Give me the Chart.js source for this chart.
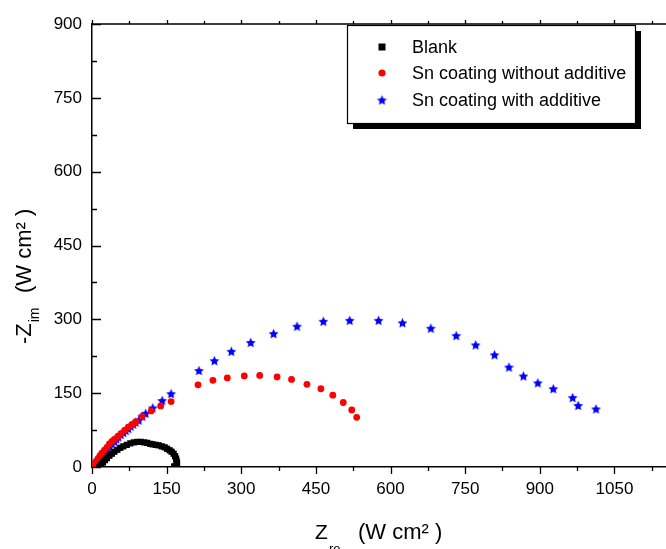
<!DOCTYPE html>
<html>
<head>
<meta charset="utf-8">
<script src="https://cdn.jsdelivr.net/npm/chart.js@4.4.1/dist/chart.umd.min.js"></script>
<style>
  html, body { margin: 0; padding: 0; background: #fff; }
  #wrap { width: 666px; height: 549px; overflow: hidden; position: relative; }
  #nyquist { display: block; }
</style>
</head>
<body>
<div id="wrap"><canvas id="nyquist" width="720" height="549"></canvas></div>
<script>
/* Nyquist plots: blank vs Sn coatings */

var seriesNames = ['Blank', 'Sn coating without additive', 'Sn coating with additive'];
var seriesColors = ['#000000', '#ff0000', '#0000ff'];

// blank
var blankZre = [15, 18, 22, 26, 30, 35, 40, 45, 51, 57, 63, 70, 77, 84, 91, 98, 105, 111, 117, 122,
                128, 134, 140, 146, 151, 156, 160, 164, 167, 169, 170, 171, 170, 168, 165];
var blankZim = [0, 4, 9, 14, 18, 23, 27, 31, 35, 39, 42, 45, 48, 50, 51, 51, 50, 49, 47, 46,
                45, 44, 42, 40, 37, 34, 31, 27, 22, 17, 12, 8, 4, 2, 1];

// Sn coating without additive
var noAddZre = [2, 5, 8, 12, 16, 20, 25, 30, 35, 40, 45, 52, 58, 66, 73, 80, 88, 101, 119, 138, 159,
                213, 243, 272, 306, 337, 372, 401, 432, 460, 484, 505, 522, 532];
var noAddZim = [0, 6, 11, 17, 23, 28, 34, 40, 47, 52, 56, 62, 68, 75, 81, 86, 92, 103, 114, 124, 133,
                167, 176, 181, 185, 186, 183, 178, 168, 159, 146, 131, 116, 101];

// Sn coating with additive
var addZre = [2, 5, 9, 13, 17, 21, 25, 30, 35, 40, 45, 49, 53, 58, 63, 68, 73, 78, 83, 88, 94, 101, 108,
              122, 141, 159, 215, 246, 280, 319, 365, 412, 465, 518, 576, 624, 681, 732, 771, 809,
              838, 867, 896, 927, 966, 977, 1013];
var addZim = [0, 4, 10, 15, 20, 26, 31, 36, 41, 47, 52, 57, 61, 66, 70, 74, 78, 83, 87, 91, 95, 103, 109,
              120, 135, 149, 196, 216, 235, 253, 271, 286, 296, 298, 298, 293, 282, 267, 248, 228,
              203, 185, 171, 159, 141, 125, 118];

var xMax = 1200, xStep = 150;
var yMax = 900, yStep = 150;

var FONT = "'Liberation Sans', Arial, sans-serif";

function pts(xs, ys) {
  return xs.map(function (x, i) { return {x: x, y: ys[i]}; });
}

// filled five point star used as a marker
function makeStar(r, color) {
  var s = Math.ceil(r * 2) + 2;
  var c = document.createElement('canvas');
  c.width = s; c.height = s;
  var g = c.getContext('2d');
  g.fillStyle = color;
  g.beginPath();
  for (var i = 0; i < 10; i++) {
    var a = -Math.PI / 2 + i * Math.PI / 5;
    var rr = (i % 2) ? r * 0.48 : r;
    g.lineTo(s / 2 + rr * Math.cos(a), s / 2 + rr * Math.sin(a) + 0.5);
  }
  g.closePath();
  g.fill();
  return c;
}
var starImg = makeStar(5.2, seriesColors[2]);

// inward/outward tick marks and top frame line
var frameTicks = {
  id: 'frameTicks',
  afterDraw: function (chart) {
    var ctx = chart.ctx, a = chart.chartArea;
    var xs = chart.scales.x, ys = chart.scales.y;
    ctx.save();
    ctx.strokeStyle = '#000';
    ctx.lineWidth = 1.3;
    ctx.beginPath();
    ctx.moveTo(a.left, a.top); ctx.lineTo(a.right, a.top);
    for (var v = 0; v <= xMax; v += xStep / 2) {
      var px = Math.round(xs.getPixelForValue(v)) + 0.5;
      var major = v % xStep === 0;
      ctx.moveTo(px, a.bottom); ctx.lineTo(px, a.bottom + (major ? 7 : 4));
      ctx.moveTo(px, a.top); ctx.lineTo(px, a.top - (major ? 4 : 3));
    }
    for (var w = 0; w <= yMax; w += yStep / 2) {
      var py = Math.round(ys.getPixelForValue(w)) + 0.5;
      ctx.moveTo(a.left, py); ctx.lineTo(a.left + (w % yStep === 0 ? 9 : 5), py);
    }
    ctx.stroke();
    ctx.restore();
  }
};

// axis titles with subscripts
var axisTitles = {
  id: 'axisTitles',
  afterDraw: function (chart) {
    var ctx = chart.ctx;
    ctx.save();
    ctx.fillStyle = '#000';
    ctx.textBaseline = 'alphabetic';
    ctx.textAlign = 'left';
    // x title
    ctx.font = '21px ' + FONT;
    ctx.fillText('Z', 315, 539);
    ctx.font = '13px ' + FONT;
    ctx.fillText('re', 329, 553);
    ctx.font = '22px ' + FONT;
    ctx.fillText('(W cm\u00B2 )', 358, 539);
    // y title, rotated
    ctx.rotate(-Math.PI / 2);
    ctx.font = '22px ' + FONT;
    ctx.fillText('-Z', -344, 31);
    var zw = ctx.measureText('-Z').width;
    ctx.font = '14px ' + FONT;
    ctx.fillText('im', -344 + zw + 1, 39);
    ctx.font = '22px ' + FONT;
    ctx.fillText('(W cm\u00B2 )', -293, 31);
    ctx.restore();
  }
};

// boxed legend with drop shadow
var boxLegend = {
  id: 'boxLegend',
  afterDraw: function (chart) {
    var ctx = chart.ctx;
    var bx = 347, by = 25, bw = 288, bh = 98;
    ctx.save();
    ctx.fillStyle = '#000';
    ctx.fillRect(bx + 6, by + 6, bw, bh);
    ctx.fillStyle = '#fff';
    ctx.fillRect(bx, by, bw, bh);
    ctx.strokeStyle = '#000';
    ctx.lineWidth = 1.2;
    ctx.strokeRect(bx + 0.5, by + 0.5, bw, bh);
    ctx.font = '18px ' + FONT;
    ctx.textBaseline = 'middle';
    var rows = [47, 73, 100];
    seriesNames.forEach(function (name, i) {
      var mx = 382, my = rows[i];
      ctx.fillStyle = seriesColors[i];
      if (i === 0) ctx.fillRect(mx - 3.5, my - 3.5, 7, 7);
      else if (i === 1) { ctx.beginPath(); ctx.arc(mx, my, 3.6, 0, Math.PI * 2); ctx.fill(); }
      else ctx.drawImage(starImg, mx - starImg.width / 2, my - starImg.height / 2);
      ctx.fillStyle = '#000';
      ctx.fillText(name, 412, my + 1);
    });
    ctx.restore();
  }
};

var el = document.getElementById('nyquist');
if (el) {
  new Chart(el, {
    type: 'scatter',
    data: {
      datasets: [
        { label: seriesNames[0], data: pts(blankZre, blankZim), pointStyle: 'rect', pointRadius: 4.4,
          backgroundColor: seriesColors[0], borderWidth: 0 },
        { label: seriesNames[1], data: pts(noAddZre, noAddZim), pointStyle: 'circle', pointRadius: 3.4,
          backgroundColor: seriesColors[1], borderWidth: 0 },
        { label: seriesNames[2], data: pts(addZre, addZim), pointStyle: starImg,
          backgroundColor: seriesColors[2], borderWidth: 0 }
      ]
    },
    options: {
      responsive: false,
      devicePixelRatio: 1,
      animation: false,
      layout: { padding: { left: 0, top: 24, right: 20, bottom: 0 } },
      plugins: { legend: { display: false }, tooltip: { enabled: false } },
      scales: {
        x: {
          type: 'linear', min: 0, max: xMax,
          afterFit: function (s) { s.height = 82; },
          border: { display: true, color: '#000', width: 1.5 },
          grid: { drawOnChartArea: false, drawTicks: false },
          ticks: { stepSize: xStep, padding: 12, color: '#000', maxRotation: 0,
                   font: { family: FONT, size: 17 },
                   callback: function (v) { return String(v); } }
        },
        y: {
          type: 'linear', min: 0, max: yMax,
          afterFit: function (s) { s.width = 92; },
          border: { display: true, color: '#000', width: 1.5 },
          grid: { drawOnChartArea: false, drawTicks: false },
          ticks: { stepSize: yStep, padding: 10, color: '#000',
                   font: { family: FONT, size: 17 },
                   callback: function (v) { return String(v); } }
        }
      }
    },
    plugins: [frameTicks, axisTitles, boxLegend]
  });
}
</script>
</body>
</html>
